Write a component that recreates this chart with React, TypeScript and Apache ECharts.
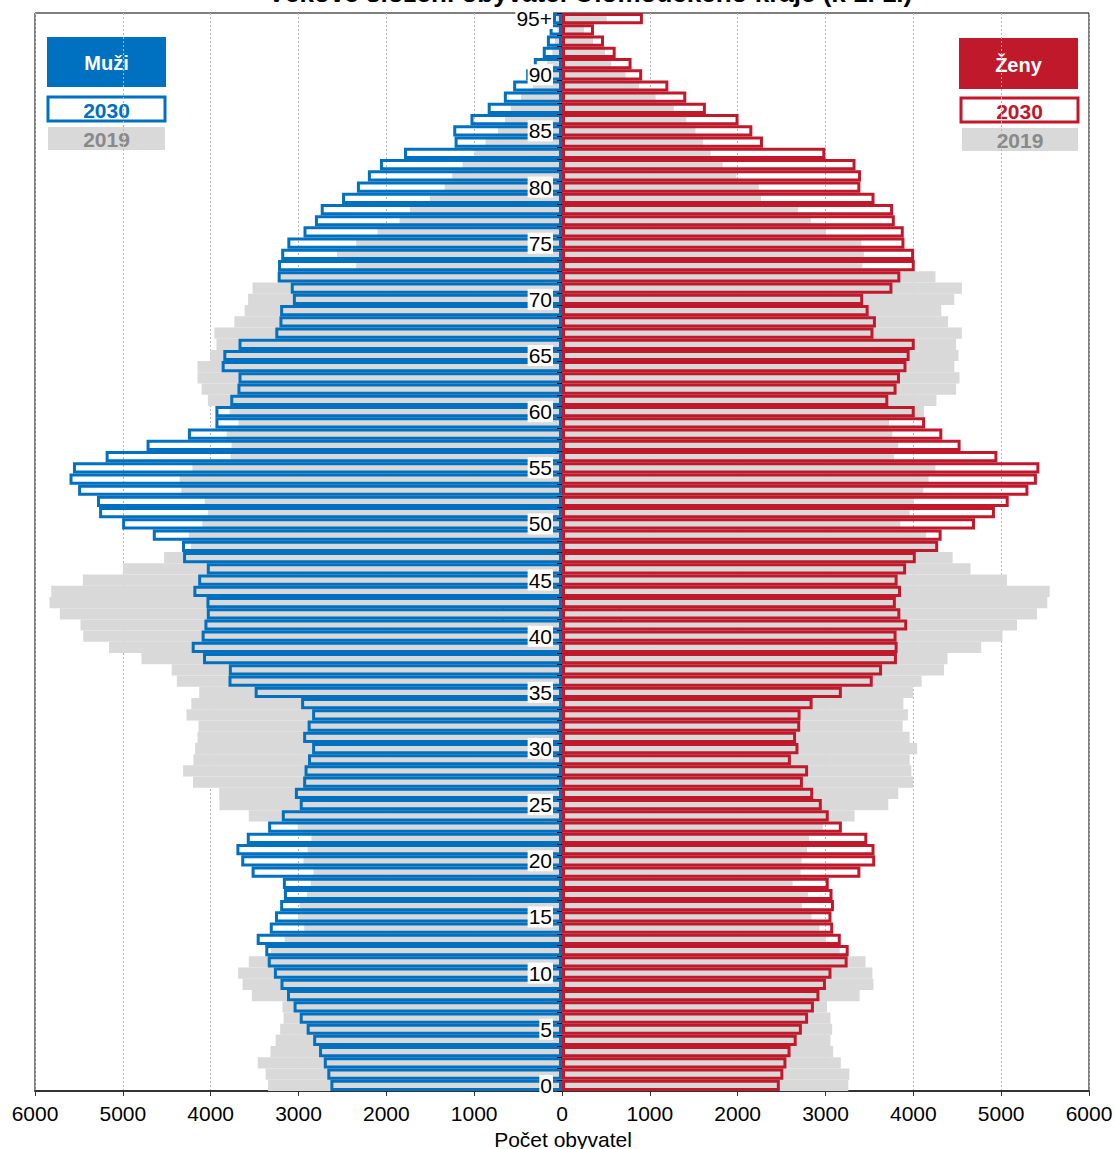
import React, { useEffect, useRef } from "react";
import * as echarts from "echarts";

const ages: string[] = Array.from({ length: 96 }, (_, i) => (i === 95 ? "95+" : String(i)));

const men2030: number[] = [
  2637, 2672, 2712, 2766, 2833, 2907, 2986, 3056, 3131, 3205,
  3280, 3350, 3378, 3476, 3327, 3268, 3209, 3166, 3178, 3534,
  3652, 3707, 3589, 3346, 3190, 2986, 3041, 2947, 2931, 2892,
  2845, 2947, 2896, 2845, 2970, 3499, 3797, 3793, 4087, 4216,
  4103, 4071, 4044, 4048, 4197, 4142, 4044, 4314, 4326, 4659,
  5008, 5270, 5294, 5509, 5607, 5568, 5196, 4730, 4259, 3946,
  3946, 3777, 3695, 3683, 3875, 3856, 3683, 3264, 3217, 3209,
  3064, 3088, 3237, 3233, 3197, 3127, 2943, 2813, 2747, 2504,
  2335, 2210, 2073, 1799, 1223, 1238, 1042, 846, 662, 556,
  408, 321, 219, 172, 141, 102,
];

const men2019: number[] = [
  3346, 3374, 3464, 3319, 3260, 3209, 3170, 3182, 3531, 3636,
  3687, 3566, 3315, 3158, 2935, 3002, 2986, 2904, 2860, 2829,
  2943, 2896, 2853, 3009, 3566, 3899, 3903, 4201, 4314, 4197,
  4177, 4150, 4138, 4275, 4220, 4130, 4385, 4444, 4788, 5157,
  5451, 5482, 5717, 5835, 5815, 5455, 5000, 4530, 4224, 4248,
  4095, 4032, 4067, 4334, 4353, 4208, 3774, 3762, 3817, 3683,
  3785, 4032, 4103, 4150, 4150, 4005, 3934, 3958, 3730, 3613,
  3574, 3523, 3220, 2343, 2563, 2343, 2100, 1850, 1732, 1505,
  1336, 1250, 1132, 995, 870, 729, 650, 584, 466, 330,
  250, 170, 110, 80, 50, 60,
];

const women2030: number[] = [
  2480, 2520, 2555, 2602, 2672, 2731, 2802, 2868, 2931, 3005,
  3068, 3252, 3264, 3174, 3088, 3068, 3096, 3080, 3037, 3397,
  3566, 3558, 3476, 3186, 3037, 2958, 2860, 2743, 2802, 2606,
  2692, 2665, 2712, 2716, 2853, 3186, 3538, 3644, 3813, 3821,
  3809, 3930, 3852, 3801, 3860, 3821, 3918, 4028, 4283, 4322,
  4702, 4929, 5086, 5310, 5407, 5435, 4957, 4538, 4330, 4134,
  4016, 3715, 3809, 3848, 3922, 3958, 4016, 3546, 3574, 3491,
  3429, 3762, 3852, 4016, 4009, 3899, 3891, 3789, 3770, 3558,
  3397, 3405, 3342, 2998, 2288, 2167, 2010, 1638, 1415, 1211,
  913, 792, 611, 478, 364, 921,
];

const women2019: number[] = [
  3260, 3272, 3174, 3088, 3056, 3076, 3056, 3017, 3389, 3546,
  3534, 3456, 3162, 3005, 2931, 2841, 2731, 2802, 2625, 2716,
  2727, 2790, 2813, 2970, 3331, 3715, 3828, 3997, 3977, 3958,
  4044, 3958, 3879, 3938, 3887, 3997, 4095, 4350, 4389, 4773,
  5016, 5180, 5407, 5525, 5552, 5067, 4651, 4447, 4260, 4146,
  3852, 3958, 4005, 4114, 4173, 4252, 3781, 3828, 3762, 3723,
  4122, 4263, 4487, 4526, 4467, 4514, 4487, 4553, 4396, 4318,
  4467, 4553, 4252, 3421, 3437, 3409, 3005, 2833, 2688, 2265,
  2241, 1987, 1830, 1693, 1607, 1520, 1415, 1273, 1066, 878,
  725, 560, 490, 353, 251, 509,
];

const BLUE = "#0070C0";
const RED = "#C0192B";
const GRAY = "#D9D9D9";
const FONT = "'Liberation Sans', Arial, sans-serif";

const GRID_LEFT = 35;
const GRID_RIGHT = 26;
const W = 1115;
const PLOT_W = W - GRID_LEFT - GRID_RIGHT;

export default function App() {
  const ref = useRef<HTMLDivElement>(null);
  useEffect(() => {
    if (!ref.current) return;
    const chart = echarts.init(ref.current, undefined, { renderer: "svg" });
    const legendBox = (x: number, y: number, w: number, h: number, fill: string, stroke: string | null, text: string, color: string, size: number) => ({
      type: "group",
      children: [
        {
          type: "rect",
          shape: { x, y, width: w, height: h },
          style: stroke ? { fill, stroke, lineWidth: 3 } : { fill },
        },
        {
          type: "text",
          x: x + w / 2,
          y: y + h / 2 + 1,
          style: { text, fill: color, font: `bold ${size}px ${FONT}`, align: "center", verticalAlign: "middle" },
        },
      ],
    });
    chart.setOption({
      animation: false,
      textStyle: { fontFamily: FONT },
      grid: {
        left: GRID_LEFT,
        right: GRID_RIGHT,
        top: 13,
        bottom: 58,
        show: true,
        borderColor: "#000",
        borderWidth: 1,
        containLabel: false,
        outerBoundsMode: "none",
      },
      xAxis: {
        type: "value",
        min: -6000,
        max: 6000,
        interval: 1000,
        axisLine: { show: true, onZero: false, lineStyle: { color: "#333", width: 2 } },
        axisTick: { show: true, length: 5, lineStyle: { color: "#333" } },
        axisLabel: { fontSize: 21, color: "#000", margin: 12, formatter: (v: number) => String(Math.abs(v)) },
        splitLine: { show: true, lineStyle: { color: "#b5b5b5", type: [2, 2], width: 1 } },
      },
      yAxis: {
        type: "category",
        data: ages,
        z: 10,
        offset: -PLOT_W / 2,
        axisLine: { show: true, onZero: false, lineStyle: { color: RED, width: 1, opacity: 0 } },
        axisTick: { show: true, length: 5, interval: 0, lineStyle: { color: "#000" } },
        axisLabel: { interval: 4, fontSize: 21, color: "#000", margin: 9, backgroundColor: "#fff", padding: [0, 1, 0, 1], lineHeight: 21 },
        splitLine: { show: false },
      },
      series: [
        {
          name: "Muži 2019",
          type: "bar",
          data: men2019.map((v) => -v),
          itemStyle: { color: GRAY },
          barGap: "-100%",
          barCategoryGap: "0%",
          z: 2,
        },
        {
          name: "Ženy 2019",
          type: "bar",
          data: women2019,
          itemStyle: { color: GRAY },
          barGap: "-100%",
          barCategoryGap: "0%",
          z: 2,
        },
        {
          name: "Muži 2030",
          type: "bar",
          data: men2030.map((v) => -v),
          itemStyle: { color: "rgba(0,0,0,0)", borderColor: BLUE, borderWidth: 3 },
          barGap: "-100%",
          barCategoryGap: "0%",
          z: 3,
        },
        {
          name: "Ženy 2030",
          type: "bar",
          data: women2030,
          itemStyle: { color: "rgba(0,0,0,0)", borderColor: RED, borderWidth: 3 },
          barGap: "-100%",
          barCategoryGap: "0%",
          z: 4,
        },
      ],
      graphic: [
        {
          type: "text",
          x: 590,
          y: 6,
          style: { text: "Věkové složení obyvatel Olomouckého kraje (k 1. 1.)", fill: "#000", font: `bold 26px ${FONT}`, align: "center", verticalAlign: "bottom" },
        },
        legendBox(47, 37, 119, 50, BLUE, null, "Muži", "#fff", 20),
        legendBox(48, 97, 117, 24, "#fff", BLUE, "2030", BLUE, 21),
        legendBox(48, 127, 117, 23, GRAY, null, "2019", "#898989", 21),
        legendBox(959, 38, 119, 51, RED, null, "Ženy", "#fff", 20),
        legendBox(961, 98, 117, 24, "#fff", RED, "2030", RED, 21),
        legendBox(962, 128, 116, 23, GRAY, null, "2019", "#898989", 21),
        {
          type: "group",
          z: 100,
          children: [
            { type: "rect", shape: { x: 503, y: 593, width: 118, height: 30 }, style: { fill: "#fff", stroke: "#000", lineWidth: 2 } },
            { type: "text", x: 562, y: 609, style: { text: "Věk", fill: "#000", font: `bold 21px ${FONT}`, align: "center", verticalAlign: "middle" } },
          ],
        },
        {
          type: "text",
          x: 563,
          y: 1139,
          style: { text: "Počet obyvatel", fill: "#000", font: `21px ${FONT}`, align: "center", verticalAlign: "middle" },
        },
      ],
    });
    return () => chart.dispose();
  }, []);
  return <div ref={ref} style={{ position: "absolute", left: 0, top: 0, width: 1115, height: 1149 }} />;
}
